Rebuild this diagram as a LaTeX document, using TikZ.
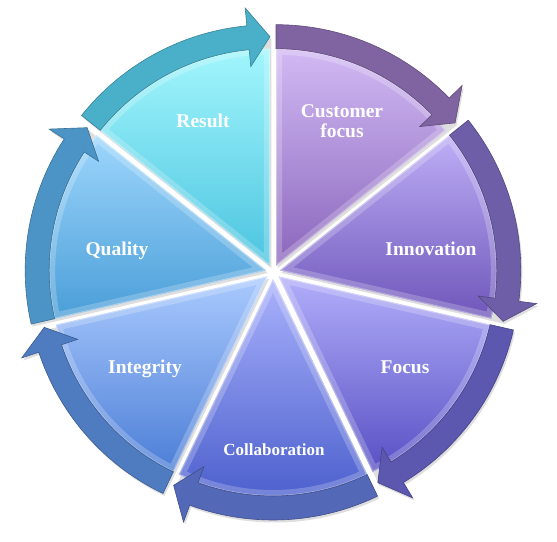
\documentclass[tikz,border=0pt]{standalone}
\usepackage{fontspec}
\setmainfont{Liberation Serif}
\definecolor{cfT}{HTML}{D2BAF4}\definecolor{cfB}{HTML}{8A66BC}\definecolor{cfA}{HTML}{8064A2}
\definecolor{inT}{HTML}{BEAEF6}\definecolor{inB}{HTML}{6E56BA}\definecolor{inA}{HTML}{6E5EA8}
\definecolor{foT}{HTML}{B2AEFA}\definecolor{foB}{HTML}{5850C4}\definecolor{foA}{HTML}{5C58B0}
\definecolor{coT}{HTML}{AAB2FC}\definecolor{coB}{HTML}{4A5ECC}\definecolor{coA}{HTML}{5468B8}
\definecolor{itT}{HTML}{AACAFE}\definecolor{itB}{HTML}{4C7ED6}\definecolor{itA}{HTML}{4F7BC0}
\definecolor{quT}{HTML}{9ED6FC}\definecolor{quB}{HTML}{4A9ED8}\definecolor{quA}{HTML}{4C94C6}
\definecolor{reT}{HTML}{A2F6FC}\definecolor{reB}{HTML}{4CC4E0}\definecolor{reA}{HTML}{4AAFC8}
\begin{document}
\begin{tikzpicture}[x=1pt,y=1pt]
\useasboundingbox (-273,-269) rectangle (284,272);
\def\Rin{217}\def\Rout{241}\def\Rmid{229}\def\Rhi{200}\def\Rho{259}\def\offs{7}
\tikzset{
  lbl/.style={text=white, font=\bfseries\fontsize{19.5}{20}\selectfont, align=center, anchor=base, inner sep=0pt},
  bandline/.style={line width=0.6pt},
}
% shadows
\foreach \i in {0,...,6}{
  \pgfmathsetmacro\segS{90-\i*360/7}
  \pgfmathsetmacro\segE{\segS-360/7}
  \pgfmathsetmacro\segB{\segS-180/7}
  \pgfmathsetmacro\segH{\segE+5.5}
  \begin{scope}[shift={(\segB:\offs)}]
    \fill[black, opacity=0.13, shift={(1.5,-2.5)}] (0,0) -- (\segS:\Rout) arc[start angle=\segS, end angle=\segH, radius=\Rout pt] -- (\segH:\Rho) -- (\segE:\Rmid) -- cycle;
  \end{scope}
}
% segments
\foreach \i/\ct/\cb/\ca in {0/cfT/cfB/cfA, 1/inT/inB/inA, 2/foT/foB/foA, 3/coT/coB/coA, 4/itT/itB/itA, 5/quT/quB/quA, 6/reT/reB/reA}{
  \pgfmathsetmacro\segS{90-\i*360/7}
  \pgfmathsetmacro\segE{\segS-360/7}
  \pgfmathsetmacro\segB{\segS-180/7}
  \pgfmathsetmacro\segH{\segE+5.5}
  \begin{scope}[shift={(\segB:\offs)}]
    \shade[top color=\ct, bottom color=\cb] (0,0) -- (\segS:\Rin) arc[start angle=\segS, end angle=\segE, radius=\Rin pt] -- cycle;
    \begin{scope}
      \clip (0,0) -- (\segS:\Rin) arc[start angle=\segS, end angle=\segE, radius=\Rin pt] -- cycle;
      \draw[white, opacity=0.22, line width=12pt] (0,0) -- (\segS:\Rin) arc[start angle=\segS, end angle=\segE, radius=\Rin pt] -- cycle;
      \draw[white, opacity=0.35, line width=2pt] (0,0) -- (\segS:\Rin) arc[start angle=\segS, end angle=\segE, radius=\Rin pt] -- cycle;
    \end{scope}
    \fill[\ca, draw=\ca!75!black, bandline] (\segS:\Rin) arc[start angle=\segS, end angle=\segH, radius=\Rin pt] -- (\segH:\Rhi) -- (\segE:\Rmid) -- (\segH:\Rho) -- (\segH:\Rout) arc[start angle=\segH, end angle=\segS, radius=\Rout pt] -- cycle;
  \end{scope}
}
\node[lbl] (cust) at (69,134) {Customer\\focus};
\node[lbl] (innov) at (158,17) {Innovation};
\node[lbl] (focus) at (132,-101) {Focus};
\node[lbl, font=\bfseries\fontsize{17}{18}\selectfont] (collab) at (1,-183) {Collaboration};
\node[lbl] (integ) at (-128,-101) {Integrity};
\node[lbl] (qual) at (-156,17) {Quality};
\node[lbl] (res) at (-70,144) {Result};
\end{tikzpicture}
\end{document}
